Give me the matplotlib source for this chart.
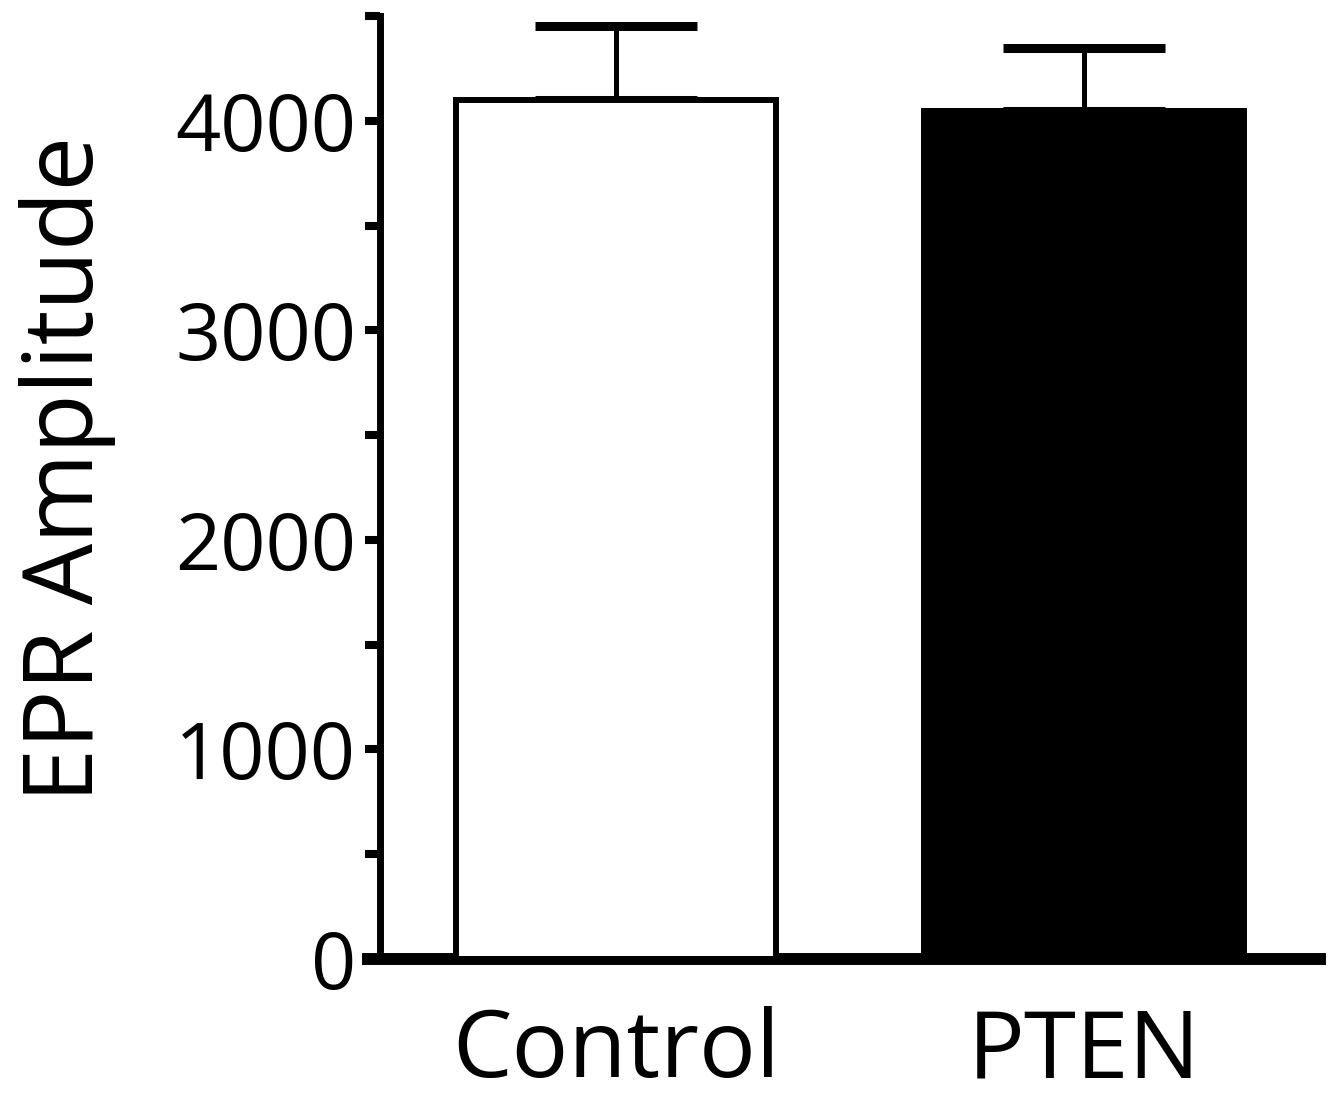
import numpy as np
import matplotlib.pyplot as plt
from matplotlib.ticker import MultipleLocator

# values
groups = ['Control', 'PTEN']
amplitude = [4100, 4045]
sem = [350, 300]
fill_colors = ['white', 'black']

plt.rcParams['font.family'] = ['Open Sans', 'DejaVu Sans']

fig = plt.figure(figsize=(13.31, 10.97), dpi=100)
ax = fig.add_axes([0.2765, 0.1258, 0.7155, 0.8596])

x = np.arange(len(groups))
ax.bar(x, amplitude, width=0.684, color=fill_colors, edgecolor='black',
       linewidth=4.3, zorder=3)
ax.errorbar(x, amplitude, yerr=[[0] * len(sem), sem], fmt='none',
            ecolor='black', elinewidth=3.6, capsize=58, capthick=6.5, zorder=2)

ax.set_xlim(-0.53, 1.506)
ax.set_ylim(0, 4500)
ax.yaxis.set_major_locator(MultipleLocator(1000))
ax.yaxis.set_minor_locator(MultipleLocator(500))

ax.set_xticks(x)
ax.set_xticklabels(groups)
ax.tick_params(axis='x', length=0, pad=34, labelsize=68)
ax.tick_params(axis='y', which='both', length=11, width=5.8, direction='out')
ax.tick_params(axis='y', which='major', labelsize=57, pad=6)

for side in ['top', 'right']:
    ax.spines[side].set_visible(False)
ax.spines['left'].set_position(('axes', 0.0125))
ax.spines['left'].set_linewidth(5)
ax.spines['bottom'].set_linewidth(8.6)

ax.set_ylabel('EPR Amplitude', fontsize=70)
ax.yaxis.set_label_coords(-0.265, 0.52)

fig.savefig('out.png', dpi=100)
